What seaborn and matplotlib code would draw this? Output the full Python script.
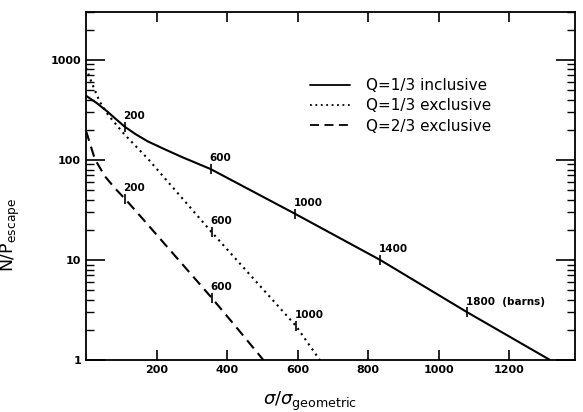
import numpy as np
import pandas as pd
import matplotlib
matplotlib.use("Agg")
import matplotlib.pyplot as plt
import seaborn as sns

# data
incl_x = [0, 30, 58, 85, 110, 140, 175, 220, 271, 353, 592, 834, 1081, 1316]
incl_y = [437, 370, 309, 255, 214, 181, 153, 129, 107, 81, 29, 10, 3.0, 1.0]
excl13_x = [0, 15, 39, 63, 110, 176, 356, 595, 663]
excl13_y = [830, 603, 380, 280, 178, 102, 19, 2.2, 1.0]
excl23_x = [0, 25, 53, 82, 110, 148, 356, 430, 503]
excl23_y = [195, 102, 69, 52, 41, 29, 4.2, 2.05, 1.0]

# barns markers on the curves
incl_mark_x = [110, 353, 592, 834, 1081]
incl_mark_y = [214, 81, 29, 10, 3.0]
incl_mark_lab = ["200", "600", "1000", "1400", "1800  (barns)"]
e13_mark_x = [356, 595]
e13_mark_y = [19, 2.2]
e13_mark_lab = ["600", "1000"]
e23_mark_x = [110, 356]
e23_mark_y = [41, 4.2]
e23_mark_lab = ["200", "600"]

labels = ["Q=1/3 inclusive", "Q=1/3 exclusive", "Q=2/3 exclusive"]
x_ticks = [200, 400, 600, 800, 1000, 1200]
y_ticks = [1, 10, 100, 1000]

sns.set_style("ticks")
plt.rcParams['font.family'] = ['DejaVu Sans']
plt.rcParams['text.color'] = 'black'
plt.rcParams['axes.labelcolor'] = 'black'
plt.rcParams['xtick.color'] = 'black'
plt.rcParams['ytick.color'] = 'black'

fig = plt.figure(figsize=(5.83, 4.12), dpi=100)
ax = fig.add_axes([0.1475, 0.126, 0.838, 0.845])

sns.lineplot(x=incl_x, y=incl_y, ax=ax, color='black', lw=1.5, linestyle='-', label=labels[0])
sns.lineplot(x=excl13_x, y=excl13_y, ax=ax, color='black', lw=1.5, linestyle=(0, (1, 2)), label=labels[1])
sns.lineplot(x=excl23_x, y=excl23_y, ax=ax, color='black', lw=1.5, linestyle=(0, (5, 3)), label=labels[2])

for mx, my, ml in [(incl_mark_x, incl_mark_y, incl_mark_lab),
                   (e13_mark_x, e13_mark_y, e13_mark_lab),
                   (e23_mark_x, e23_mark_y, e23_mark_lab)]:
    ax.plot(mx, my, ls='none', marker='|', ms=7, mew=1.2, color='black')
    for x, y, l in zip(mx, my, ml):
        ax.annotate(l, (x, y), xytext=(-1, 4), textcoords='offset points',
                    ha='left', va='bottom', fontsize=7.5, fontweight='bold')

ax.set_yscale('log')
ax.set_xlim(0, 1385)
ax.set_ylim(1, 3000)
ax.set_xticks(x_ticks)
ax.set_xticklabels([str(t) for t in x_ticks], fontsize=8, fontweight='bold')
ax.set_yticks(y_ticks)
ax.set_yticklabels([str(t) for t in y_ticks], fontsize=8, fontweight='bold')
ax.tick_params(axis='both', which='major', direction='in', top=True, right=True, length=7, width=1.2)
ax.tick_params(axis='y', which='major', length=14)
ax.tick_params(axis='y', which='minor', direction='in', left=True, right=True, length=6, width=1)
for s in ax.spines.values():
    s.set_linewidth(1.3)
    s.set_color('black')

ax.set_xlabel(r"$\sigma/\sigma_{\mathrm{geometric}}$", fontsize=13)
ax.set_ylabel(r"N/P$_{\mathrm{escape}}$", fontsize=12.5)
ax.xaxis.set_label_coords(0.458, -0.085)
ax.yaxis.set_label_coords(-0.13, 0.36)

leg = ax.legend(loc='upper left', bbox_to_anchor=(0.43, 0.85), frameon=False,
                fontsize=11, handlelength=2.6, handletextpad=1.1, labelspacing=0.35)
for h in leg.get_lines():
    h.set_linewidth(1.3)

fig.savefig("out.png", dpi=100)
